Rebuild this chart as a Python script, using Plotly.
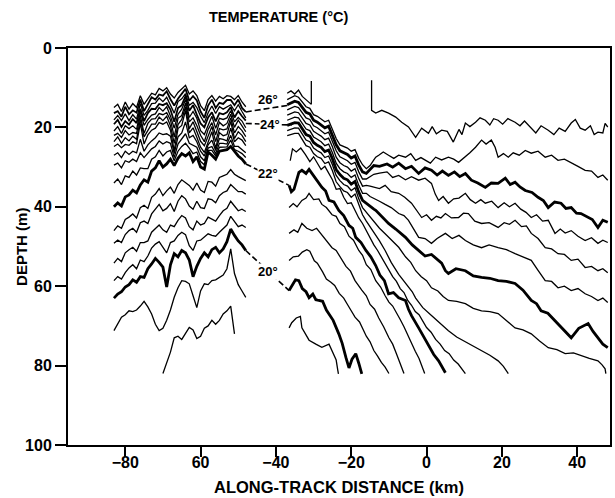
import plotly.graph_objects as go

FONT = "Liberation Sans, Arial, Helvetica, sans-serif"
INK = "black"
THIN = 1.3
THICK = 2.8

# ---------------- western section (km along track) ----------------
WEST_X = list(range(-83, -47))

# shallow, tightly packed isotherms (depth, m)
C1 = [15.0, 14.2, 16.0, 13.6, 15.4, 14.0, 15.0, 12.0, 14.2, 12.8, 11.4, 11.8, 10.2, 10.8, 10.0, 11.6, 12.6, 11.2,
      10.2, 9.4, 11.6, 10.8, 12.0, 14.5, 15.8, 13.0, 12.0, 13.4, 12.2, 12.8, 12.0, 12.2, 13.0, 12.0, 13.6, 14.8]
C2 = [16.4, 15.9, 17.3, 14.8, 16.7, 15.7, 16.3, 13.0, 15.9, 14.1, 12.4, 13.0, 11.7, 12.0, 10.9, 12.9, 14.5, 12.8,
      11.5, 10.3, 13.3, 12.1, 13.2, 16.0, 17.6, 14.5, 13.0, 15.1, 13.8, 14.1, 13.1, 13.1, 14.4, 13.0, 15.1, 16.1]
C3 = [18.1, 17.0, 18.3, 16.6, 18.3, 16.8, 17.9, 14.0, 17.0, 15.7, 14.0, 13.9, 12.6, 13.5, 12.4, 14.5, 16.4, 13.5,
      12.8, 11.5, 14.4, 13.7, 15.0, 17.2, 18.8, 16.3, 14.6, 16.5, 14.8, 15.4, 14.8, 14.3, 15.8, 14.3, 16.0, 17.6]
C4 = [19.2, 18.1, 19.9, 18.4, 19.3, 17.9, 18.9, 15.3, 18.4, 16.4, 15.3, 15.4, 14.1, 14.4, 13.9, 15.5, 18.6, 15.1,
      14.4, 12.1, 15.8, 14.4, 16.8, 19.0, 20.0, 17.5, 16.2, 18.5, 16.4, 16.7, 16.2, 14.9, 17.5, 15.9, 17.2, 18.3]
C5 = [20.9, 19.8, 21.5, 19.6, 20.3, 19.6, 20.5, 16.0, 19.5, 18.0, 16.9, 16.6, 15.0, 15.9, 14.8, 17.1, 20.2, 16.7,
      15.4, 13.0, 17.5, 16.0, 17.7, 20.8, 21.8, 19.3, 17.2, 20.2, 17.7, 18.0, 17.6, 15.8, 18.6, 17.5, 18.4, 20.1]
C6 = [22.0, 21.5, 22.5, 20.8, 21.9, 21.3, 21.5, 17.0, 21.5, 19.0, 17.9, 17.8, 16.5, 16.8, 16.3, 18.1, 22.4, 17.7,
      17.0, 13.9, 18.6, 17.6, 19.5, 22.0, 23.6, 20.5, 18.8, 21.9, 18.7, 19.6, 19.0, 16.7, 20.0, 18.2, 19.6, 21.1]
C7 = [23.6, 22.4, 24.0, 22.6, 23.4, 22.2, 23.0, 18.0, 22.4, 20.9, 19.2, 19.2, 17.4, 18.3, 17.2, 19.6, 24.0, 19.3,
      18.0, 14.8, 20.3, 18.6, 21.3, 23.5, 24.6, 22.0, 19.8, 23.6, 20.3, 20.6, 20.4, 17.6, 21.4, 19.8, 20.8, 22.3]
C8 = [24.8, 24.2, 25.1, 24.3, 24.5, 23.6, 24.1, 19.0, 24.2, 21.9, 20.7, 20.2, 18.8, 19.2, 18.6, 20.7, 25.9, 20.3,
      19.5, 15.7, 21.4, 20.1, 22.5, 25.0, 26.3, 23.7, 21.1, 25.3, 21.3, 22.1, 21.8, 18.5, 22.8, 21.1, 22.0, 23.6]
M1 = [27.0, 26.4, 27.6, 26.0, 26.8, 26.0, 26.4, 23.0, 26.0, 24.4, 23.4, 22.6, 21.4, 21.8, 21.6, 22.2, 26.6, 22.4,
      21.4, 18.6, 22.6, 22.0, 23.6, 26.0, 27.2, 24.4, 23.2, 25.8, 22.8, 23.0, 23.4, 20.2, 23.6, 22.6, 23.2, 24.6]
M2 = [29.5, 29.0, 30.2, 28.4, 28.8, 28.0, 28.6, 26.4, 27.6, 26.6, 25.4, 24.8, 23.4, 24.2, 23.6, 24.0, 27.6, 24.2,
      23.0, 21.6, 24.0, 24.6, 25.0, 27.4, 28.4, 25.2, 24.8, 26.6, 24.0, 24.0, 24.2, 22.0, 24.8, 24.8, 25.6, 26.4]
M3 = [34.0, 33.0, 34.4, 32.2, 32.6, 31.0, 32.0, 30.2, 30.4, 30.4, 28.0, 27.4, 25.8, 27.2, 26.2, 25.8, 28.4, 26.0,
      24.8, 24.0, 25.2, 26.6, 26.2, 28.6, 29.4, 25.8, 25.8, 27.2, 25.0, 25.0, 24.9, 23.2, 25.6, 26.0, 26.6, 27.6]
# 22 degC
T22_WEST = [40.0, 39.0, 39.8, 37.5, 37.0, 35.8, 36.5, 34.5, 33.2, 33.8, 31.0, 30.2, 28.4, 30.0, 29.2, 28.0, 29.6,
            27.8, 26.6, 27.2, 26.4, 28.6, 27.4, 30.0, 30.5, 26.2, 27.0, 28.0, 26.0, 25.8, 25.6, 24.8, 26.0, 27.2,
            28.0, 29.2]
M4 = [46.0, 44.8, 45.4, 43.2, 42.6, 41.8, 42.8, 40.2, 39.6, 40.4, 37.6, 36.8, 35.4, 37.2, 36.0, 35.0, 36.6, 34.4,
      33.2, 33.8, 34.6, 35.8, 34.0, 35.8, 36.4, 33.6, 33.8, 34.8, 32.6, 32.2, 31.8, 30.6, 31.8, 32.4, 32.8, 33.4]
M5 = [49.2, 48.4, 49.0, 47.0, 46.0, 45.4, 46.4, 44.0, 43.6, 44.2, 41.8, 40.6, 39.4, 41.0, 40.4, 39.2, 41.2, 38.6,
      37.2, 38.0, 39.8, 40.6, 38.6, 40.2, 40.4, 38.0, 38.2, 39.0, 37.2, 36.4, 36.0, 34.4, 35.4, 36.2, 36.2, 36.8]
M6 = [54.2, 53.0, 53.8, 51.6, 50.8, 50.2, 51.2, 49.0, 49.0, 48.6, 46.4, 45.4, 44.6, 45.8, 46.4, 44.6, 45.0, 43.4,
      42.2, 42.8, 45.0, 45.8, 43.6, 44.6, 44.2, 42.6, 43.0, 43.6, 42.2, 41.0, 40.4, 38.6, 39.8, 41.0, 40.6, 41.2]
M7 = [58.6, 57.6, 58.2, 56.6, 55.4, 54.6, 55.6, 53.4, 53.8, 52.4, 50.4, 49.4, 48.8, 50.2, 51.6, 49.0, 48.6, 47.2,
      46.4, 47.0, 49.8, 51.0, 48.6, 48.4, 47.6, 46.8, 47.2, 47.4, 46.4, 45.4, 44.6, 42.4, 43.8, 45.0, 44.6, 45.2]
# 20 degC
T20_WEST = [63.0, 62.0, 61.4, 60.2, 59.6, 58.4, 59.0, 57.6, 57.8, 55.6, 54.4, 53.0, 54.0, 55.2, 60.2, 54.6, 51.8,
            52.6, 51.0, 51.6, 53.4, 57.6, 55.0, 53.0, 51.6, 52.6, 50.8, 50.2, 51.6, 50.6, 48.8, 45.6, 47.2, 48.6,
            49.6, 51.0]
M8 = [71.2, 69.4, 67.8, 67.2, 66.2, 66.4, 66.0, 65.0, 63.8, 65.2, 67.0, 69.6, 71.2, 70.6, 68.6, 66.0, 62.8, 60.4,
      58.6, 58.8, 59.4, 62.4, 65.4, 61.2, 59.4, 59.6, 58.6, 58.4, 57.8, 57.2, 55.6, 50.6, 56.8, 59.6, 61.2, 62.8]
DEEP_WEST_X = list(range(-70, -50))
DEEP_WEST = [82.0, 79.4, 76.6, 73.0, 72.6, 73.4, 72.0, 70.4, 71.0, 73.2, 72.6, 70.6, 70.0, 68.6, 69.6, 68.6, 67.0,
             66.2, 65.0, 72.0]

# ---------------- eastern section ----------------
# isotherm reaching the surface near -15 km
OUTCROP_X = [-14.6, -14.6, -13.5, -11.9, -10.1, -8.2, -6.6, -4.8, -2.9, -1.3, 0.5, 1.5, 2.6, 4.0, 5.5, 7.1, 8.6,
             9.4, 10.3, 11.5, 13.0, 14.2, 15.6, 16.8, 17.8, 19.0, 20.2, 21.6, 23.5, 24.8, 26.0, 27.8, 29.0, 30.4,
             32.3, 33.8, 35.2, 36.8, 38.4, 39.5, 40.8, 42.1, 43.5, 44.5, 45.5, 46.8, 47.4, 48.1]
OUTCROP_D = [8.1, 15.7, 16.4, 15.7, 16.4, 17.4, 18.7, 19.9, 22.5, 20.2, 21.5, 19.8, 21.6, 20.7, 21.0, 23.7, 20.5,
             21.8, 18.9, 19.8, 18.7, 17.6, 18.2, 19.4, 17.8, 18.2, 19.2, 17.8, 18.7, 19.6, 18.4, 20.2, 21.4, 19.6,
             20.7, 21.8, 20.2, 21.0, 18.9, 18.0, 20.2, 20.7, 19.6, 21.8, 21.2, 21.4, 19.0, 19.9]
# isotherm reaching the surface near -31 km
RC1_X = [-37, -36, -35, -34, -33, -32, -31, -30.6, -30.6]
RC1_D = [11.4, 10.8, 11.6, 10.6, 12.2, 13.0, 13.8, 14.2, 8.3]

# frontal packet, -37 to -14 km
FRONT_X = list(range(-37, -13))
RC2 = [13.0, 12.6, 12.0, 12.4, 13.6, 14.8, 15.2, 16.8, 17.2, 18.0, 18.6, 18.2, 20.4, 22.8, 24.4, 24.8, 25.2, 26.0,
       25.6, 27.8, 29.4, 30.4, 29.6, 28.2]
RC3 = [14.3, 13.9, 13.4, 13.7, 15.0, 16.2, 16.6, 18.2, 18.7, 19.4, 20.1, 19.7, 21.9, 24.4, 25.9, 26.4, 26.8, 27.7,
       27.2, 29.5, 31.2, 31.6, 30.6, 29.6]
RC4 = [15.6, 15.2, 14.7, 15.0, 16.3, 17.6, 18.0, 19.6, 20.1, 20.8, 21.6, 21.2, 23.4, 25.9, 27.4, 28.0, 28.4, 29.3,
       28.8, 31.2, 33.0, 33.0, 32.4, 31.8]
RC5 = [16.9, 16.5, 16.1, 16.3, 17.7, 19.0, 19.4, 21.0, 21.6, 22.2, 23.1, 22.7, 24.9, 27.5, 28.9, 29.6, 30.0, 31.0,
       30.4, 32.9, 34.8, 34.6, 34.8, 35.0]
RC6 = [18.2, 17.8, 17.4, 17.6, 19.0, 20.4, 20.8, 22.4, 23.0, 23.6, 24.6, 24.2, 26.4, 29.0, 30.4, 31.2, 31.6, 32.6,
       32.0, 34.6, 36.6, 36.6, 37.4, 37.8]
RC7 = [19.5, 19.1, 18.8, 18.9, 20.4, 21.8, 22.2, 23.8, 24.5, 25.0, 26.1, 25.7, 27.9, 30.6, 31.9, 32.8, 33.2, 34.3,
       33.6, 36.3, 38.4, 39.2, 40.0, 40.6]
RC8 = [20.8, 20.4, 20.1, 20.2, 21.7, 23.2, 23.6, 25.2, 25.9, 26.4, 27.6, 27.2, 29.4, 32.1, 33.4, 34.4, 34.8, 35.9,
       35.2, 38.0, 40.2, 41.4, 42.6, 43.8]
RC9 = [22.1, 21.7, 21.5, 21.5, 23.1, 24.6, 25.0, 26.6, 27.4, 27.8, 29.1, 28.7, 30.9, 33.7, 34.9, 36.0, 36.4, 37.6,
       36.8, 39.7, 42.0, 43.6, 45.0, 46.6]

# continuation east of the front (km, m)
RC2_TAIL = [(-13.5, 27.5), (-12.7, 27.0), (-11.5, 26.2), (-10.1, 27.0), (-8.7, 27.8), (-7.4, 27.0), (-5.6, 27.5),
            (-4.2, 26.6), (-2.9, 28.3), (-1.5, 27.6), (-0.3, 28.3), (1.0, 29.0), (2.4, 27.5), (4.0, 28.2),
            (5.8, 27.5), (7.2, 28.0), (8.5, 28.8), (10.3, 27.5), (11.5, 26.4), (13.0, 25.0), (14.6, 23.2),
            (15.8, 24.2), (17.2, 23.2), (18.2, 25.0), (19.0, 27.5), (20.4, 26.6), (21.7, 27.5), (23.0, 26.4),
            (24.6, 27.0), (26.2, 25.8), (27.8, 26.5), (29.6, 26.0), (31.5, 27.5), (33.2, 27.0), (34.9, 28.3),
            (36.6, 28.0), (38.4, 29.0), (40.2, 29.8), (42.1, 30.8), (43.8, 31.0), (45.5, 32.6), (46.8, 32.0),
            (48.1, 33.3)]
RC3_TAIL = [(-12.5, 29.8), (-10.5, 29.2), (-9.0, 30.0), (-7.4, 29.0), (-5.6, 30.4), (-4.0, 29.8), (-2.1, 31.6),
            (-0.4, 30.2), (1.3, 30.8), (2.8, 32.0), (4.2, 31.0), (5.8, 32.1), (7.4, 31.2), (8.8, 32.4),
            (10.3, 31.6), (11.9, 33.3), (13.6, 34.0), (15.6, 35.1), (17.2, 34.0), (19.0, 34.1), (20.9, 32.8),
            (22.2, 34.4), (23.5, 33.8), (24.8, 35.0), (26.2, 35.9), (28.0, 36.4), (29.6, 37.6), (31.0, 38.4),
            (32.3, 40.2), (34.0, 38.8), (35.7, 39.1), (37.0, 40.4), (38.4, 40.2), (39.8, 41.6), (41.0, 41.7),
            (42.6, 42.6), (44.0, 43.2), (45.5, 45.2), (46.8, 43.4), (48.1, 43.9)]
RC4_TAIL = [(-12.5, 31.5), (-10.5, 31.2), (-9.0, 32.6), (-7.4, 32.1), (-5.6, 33.2), (-4.0, 32.4), (-2.1, 33.3),
            (-0.4, 32.8), (1.3, 34.1), (2.3, 36.8), (3.2, 38.4), (4.4, 37.4), (5.8, 39.1), (7.2, 38.0),
            (8.6, 37.8), (10.3, 36.6), (11.6, 38.2), (13.0, 39.1), (14.4, 38.2), (15.6, 39.1), (17.3, 38.6),
            (19.0, 40.2), (20.6, 39.0), (22.0, 40.0), (23.5, 39.1), (25.0, 40.6), (26.4, 41.4), (27.8, 42.7),
            (29.2, 42.0), (30.8, 43.6), (32.3, 43.4), (34.1, 46.7), (35.5, 45.6), (36.8, 46.6), (38.4, 46.0),
            (40.2, 47.4), (42.1, 48.5), (43.8, 47.8), (45.5, 49.2), (46.8, 48.4), (48.1, 49.0)]
RC5_TAIL = [(-12.5, 35.4), (-11.0, 34.6), (-9.4, 36.2), (-7.4, 36.6), (-5.8, 37.6), (-4.0, 39.1), (-2.6, 41.0),
            (-1.3, 42.7), (0.0, 42.0), (1.3, 43.4), (2.6, 42.4), (3.8, 42.8), (5.0, 41.7), (6.6, 42.8),
            (8.5, 42.7), (9.8, 41.6), (11.1, 41.7), (12.8, 43.6), (14.6, 44.2), (16.6, 44.0), (19.0, 45.2),
            (20.6, 44.0), (22.0, 44.4), (23.5, 43.4), (25.2, 45.0), (26.5, 44.8), (27.8, 46.7), (29.6, 48.0),
            (31.5, 50.3), (33.2, 50.6), (34.9, 51.8), (36.6, 52.0), (38.4, 53.5), (40.2, 53.2), (42.1, 55.3),
            (43.8, 55.0), (45.5, 56.1), (46.8, 55.6), (48.1, 56.6)]
RC6_TAIL = [(-12.5, 38.6), (-11.0, 39.4), (-9.4, 40.2), (-7.4, 41.7), (-6.0, 42.2), (-4.8, 43.4), (-3.4, 45.6),
            (-2.1, 47.7), (-0.4, 48.0), (1.3, 49.2), (2.8, 48.0), (5.0, 46.7), (6.8, 48.0), (8.6, 47.2),
            (10.3, 48.5), (12.4, 49.6), (14.6, 50.3), (16.6, 49.6), (19.0, 50.3), (21.2, 50.8), (23.5, 51.8),
            (25.6, 52.6), (27.8, 53.5), (29.6, 56.0), (31.5, 58.6), (33.2, 58.8), (34.9, 60.4), (36.6, 60.0),
            (38.4, 61.1), (40.2, 60.6), (42.1, 61.9), (43.8, 62.6), (45.5, 63.6), (46.8, 63.0), (48.1, 64.1)]
RC7_TAIL = [(-13.5, 40.9), (-12.0, 42.4), (-10.1, 44.2), (-8.2, 45.6), (-5.6, 47.7), (-3.8, 49.6), (-2.1, 51.0),
            (-0.4, 52.4), (1.3, 52.0), (3.2, 53.5), (4.0, 54.2), (5.0, 56.1), (5.8, 56.8), (7.8, 55.6),
            (10.3, 56.1), (12.4, 57.4), (14.6, 57.8), (16.8, 58.0), (19.0, 58.6), (21.2, 58.8), (23.5, 59.3),
            (25.6, 61.0), (27.8, 63.6), (29.2, 64.4), (30.4, 66.2), (32.2, 66.8), (34.1, 68.7), (36.2, 70.6),
            (38.4, 73.0), (40.4, 70.6), (42.9, 69.4), (44.2, 71.4), (45.5, 73.0), (46.8, 74.6), (48.1, 75.5)]
RC8_TAIL = [(-12.5, 45.4), (-11.0, 46.8), (-9.4, 48.4), (-7.4, 50.2), (-5.6, 52.6), (-4.2, 54.0), (-2.9, 56.1),
            (-1.4, 57.6), (0.0, 58.6), (1.3, 60.4), (3.0, 61.2), (4.4, 62.6), (5.8, 63.6), (8.0, 63.8),
            (10.3, 64.4), (12.4, 65.6), (14.6, 66.2), (16.8, 66.4), (19.0, 66.9), (21.2, 68.6), (23.5, 70.5),
            (25.6, 71.0), (27.8, 72.0), (30.0, 73.8), (32.3, 75.5), (34.6, 76.0), (36.8, 77.0), (39.0, 76.8),
            (41.0, 77.5), (43.2, 78.2), (45.5, 78.8), (46.6, 79.8), (47.4, 80.8), (47.6, 82.0)]
RC9_TAIL = [(-12.5, 48.6), (-11.0, 51.0), (-9.4, 54.0), (-7.4, 57.0), (-6.2, 58.4), (-5.0, 60.0), (-3.8, 61.4),
            (-2.9, 63.0), (-1.0, 65.4), (1.3, 67.4), (3.4, 69.2), (5.8, 71.2), (8.0, 72.8), (10.3, 74.0),
            (12.4, 75.0), (14.6, 76.3), (16.8, 77.4), (19.0, 78.8), (20.4, 80.2), (21.7, 82.0)]

# deeper eastern isotherms, (km, m)
RM_EAST = [(-36.2, 28.4), (-35.6, 25.4), (-34.6, 26.2), (-33.4, 25.2), (-32.2, 26.8), (-31.0, 28.6), (-30.0, 27.4),
           (-29.0, 29.0), (-28.0, 30.6), (-27.0, 29.8), (-26.0, 31.6), (-25.0, 33.2), (-24.0, 35.6), (-23.0, 35.4),
           (-22.0, 37.6), (-21.0, 39.2), (-20.0, 39.0), (-19.0, 41.0), (-18.0, 42.8), (-17.0, 44.2), (-16.0, 46.0),
           (-15.0, 48.0), (-14.0, 49.6), (-13.0, 51.0), (-12.0, 52.6), (-11.0, 54.2), (-10.0, 55.8), (-9.0, 57.6),
           (-8.0, 58.8), (-7.0, 60.6), (-6.0, 61.6), (-5.0, 63.6), (-4.0, 64.8), (-3.0, 66.4), (-2.0, 67.2),
           (-1.0, 68.8), (0.0, 70.4), (1.2, 71.6), (2.4, 73.4), (3.6, 74.6), (4.8, 76.2), (6.0, 77.0), (7.2, 78.6),
           (8.4, 79.6), (9.4, 81.0), (10.3, 82.0)]
T22_EAST = [(-36.5, 34.6), (-35.9, 36.2), (-35.2, 35.6), (-34.5, 33.0), (-33.9, 31.3), (-33.1, 30.8), (-32.0, 31.6),
            (-31.2, 30.6), (-30.4, 31.6), (-29.1, 33.3), (-27.8, 35.1), (-26.8, 36.0), (-25.9, 38.4), (-24.6, 38.8),
            (-23.3, 40.9), (-22.0, 42.2), (-20.6, 44.7), (-19.6, 45.4), (-18.8, 47.7), (-17.4, 49.0), (-16.1, 51.0),
            (-14.8, 52.6), (-13.5, 54.8), (-12.4, 57.2), (-11.2, 58.6), (-10.1, 61.9), (-8.8, 61.6), (-7.4, 62.9),
            (-5.6, 63.6), (-4.8, 65.8), (-4.0, 67.4), (-2.1, 70.5), (-0.8, 72.6), (0.5, 75.0), (1.9, 77.2),
            (3.2, 78.8), (4.2, 80.6), (5.0, 81.8)]
R40_EAST = [(-36.5, 40.2), (-35.4, 39.2), (-34.4, 40.0), (-33.1, 38.4), (-32.0, 37.8), (-31.2, 36.6), (-30.0, 38.2),
            (-28.6, 38.0), (-27.8, 39.4), (-26.6, 40.2), (-25.1, 42.0), (-24.0, 42.4), (-23.0, 44.2), (-21.8, 45.0),
            (-20.6, 47.4), (-19.4, 48.4), (-18.0, 51.0), (-17.0, 52.2), (-16.0, 54.6), (-14.8, 55.8), (-13.5, 58.6),
            (-12.2, 60.2), (-11.0, 62.4), (-10.0, 64.0), (-9.0, 65.0), (-8.0, 66.6), (-7.0, 68.4), (-6.0, 70.2),
            (-5.0, 72.4), (-4.0, 74.2), (-3.0, 76.4), (-2.0, 78.2), (-1.2, 80.2), (-0.5, 82.0)]
R47_EAST = [(-36.5, 46.7), (-35.2, 45.8), (-34.2, 46.4), (-33.1, 44.2), (-31.8, 45.4), (-30.4, 46.0), (-29.2, 45.4),
            (-27.8, 47.0), (-26.4, 48.6), (-25.1, 50.3), (-24.0, 51.0), (-23.0, 52.6), (-21.4, 55.0), (-20.2, 56.2),
            (-19.0, 58.6), (-17.2, 61.0), (-16.0, 62.4), (-15.0, 64.6), (-13.8, 65.8), (-12.7, 68.0), (-11.4, 70.2),
            (-10.0, 73.0), (-9.0, 74.6), (-8.0, 77.0), (-7.0, 79.4), (-6.0, 82.0)]
R53_EAST = [(-36.5, 53.5), (-35.4, 52.6), (-34.0, 52.4), (-33.0, 51.4), (-31.8, 50.8), (-31.0, 51.2), (-29.8, 53.6),
            (-29.0, 54.2), (-27.6, 56.4), (-26.6, 58.2), (-25.4, 59.0), (-24.4, 59.8), (-23.2, 61.8), (-22.0, 63.0),
            (-21.0, 64.6), (-19.8, 66.4), (-19.0, 67.8), (-17.8, 69.0), (-17.0, 70.6), (-16.0, 72.6), (-15.0, 74.0),
            (-14.0, 76.2), (-13.0, 77.6), (-12.0, 79.2), (-11.0, 80.4), (-10.0, 82.0)]
T20_EAST = [(-36.5, 61.1), (-35.6, 59.8), (-34.8, 58.4), (-33.9, 58.6), (-33.0, 60.6), (-32.0, 61.4), (-31.2, 62.9),
            (-30.2, 62.0), (-29.4, 63.4), (-28.6, 63.6), (-27.6, 63.8), (-26.6, 66.0), (-25.9, 66.9), (-24.8, 68.6),
            (-23.3, 72.0), (-22.4, 74.4), (-21.4, 78.0), (-20.6, 80.6), (-19.8, 78.4), (-18.8, 77.0), (-18.0, 79.4),
            (-17.2, 82.1)]
R70_EAST = [(-36.5, 70.5), (-35.8, 69.2), (-34.6, 68.0), (-33.5, 67.6), (-33.1, 70.5), (-32.0, 72.2), (-31.2, 73.6),
            (-29.4, 74.6), (-27.8, 75.4), (-25.9, 74.6), (-25.1, 76.2), (-24.0, 78.6), (-23.6, 81.0), (-23.4, 82.1)]

# dashed links across the data gap, and their temperature labels
LINK_26 = [(-48.0, 16.1), (-36.5, 14.4)]
LINK_24 = [(-48.0, 19.0), (-35.8, 19.4)]
LINK_22 = [(-48.0, 29.2), (-36.5, 34.6)]
LINK_20 = [(-48.0, 51.0), (-36.5, 61.1)]
LABELS = [("26°", -42.0, 13.0, False), ("24°", -41.6, 19.2, True),
          ("22°", -42.0, 31.6, True), ("20°", -42.0, 56.4, True)]

X_TICKS = [-80, -60, -40, -20, 0, 20, 40]
X_TICK_TEXT = ["\u221280", "60", "\u221240", "\u221220", "0", "20", "40"]
Y_TICKS = [0, 20, 40, 60, 80, 100]

fig = go.Figure()


def add_line(xs, ds, width, dash=None):
    fig.add_trace(go.Scatter(x=xs, y=ds, mode="lines",
                             line=dict(color=INK, width=width, dash=dash),
                             showlegend=False, hoverinfo="skip"))


def add_pairs(pairs, width, dash=None):
    add_line([p[0] for p in pairs], [p[1] for p in pairs], width, dash)


# western section
for depths, w in [(C1, THIN), (C2, 1.8), (C3, THIN), (C4, 1.8), (C5, THIN), (C6, THIN), (C7, THIN), (C8, THIN),
                  (M1, THIN), (M2, THIN), (M3, THIN), (T22_WEST, THICK), (M4, THIN), (M5, THIN), (M6, THIN),
                  (M7, THIN), (T20_WEST, THICK), (M8, THIN)]:
    add_line(WEST_X, depths, w)
add_line(DEEP_WEST_X, DEEP_WEST, THIN)

# eastern section
add_line(OUTCROP_X, OUTCROP_D, THIN)
add_line(RC1_X, RC1_D, THIN)
for depths, tail, w in [(RC2, RC2_TAIL, THIN), (RC3, RC3_TAIL, THICK), (RC4, RC4_TAIL, THIN),
                        (RC5, RC5_TAIL, THIN), (RC6, RC6_TAIL, THIN), (RC7, RC7_TAIL, THICK),
                        (RC8, RC8_TAIL, THIN), (RC9, RC9_TAIL, THIN)]:
    add_line(FRONT_X + [p[0] for p in tail], depths + [p[1] for p in tail], w)
for pairs, w in [(RM_EAST, THIN), (T22_EAST, THICK), (R40_EAST, THIN), (R47_EAST, THIN),
                 (R53_EAST, THIN), (T20_EAST, THICK), (R70_EAST, THIN)]:
    add_pairs(pairs, w)

# links and labels
for link in (LINK_26, LINK_24, LINK_22, LINK_20):
    add_pairs(link, 1.6, dash="6px,3px")
for text, lx, ld, boxed in LABELS:
    fig.add_annotation(x=lx, y=ld, text=text, showarrow=False,
                       font=dict(family=FONT, size=13, color=INK, weight="bold"),
                       bgcolor="white" if boxed else "rgba(0,0,0,0)", borderpad=0)

axis_font = dict(family=FONT, size=16, color=INK, weight="bold")
fig.update_xaxes(range=[-95.2, 48.7], tickvals=X_TICKS, ticktext=X_TICK_TEXT, ticks="outside",
                 ticklen=10, tickwidth=2, tickcolor=INK, showline=True, linewidth=2, linecolor=INK,
                 mirror=True, showgrid=False, zeroline=False, tickfont=axis_font, ticklabelstandoff=-8)
fig.update_yaxes(range=[100, 0], tickvals=Y_TICKS, ticks="outside", ticklen=11, tickwidth=2,
                 tickcolor=INK, showline=True, linewidth=2, linecolor=INK, mirror=True,
                 showgrid=False, zeroline=False, tickfont=axis_font)

fig.add_annotation(xref="paper", yref="paper", x=0.388, y=1.078, text="TEMPERATURE (°C)",
                   showarrow=False, font=dict(family=FONT, size=14.5, color=INK, weight="bold"),
                   xanchor="center", yanchor="middle")
fig.add_annotation(xref="paper", yref="paper", x=0.5, y=-0.106, text="ALONG-TRACK DISTANCE (km)",
                   showarrow=False, font=dict(family=FONT, size=16.5, color=INK, weight="bold"),
                   xanchor="center", yanchor="middle")
fig.add_annotation(xref="paper", yref="paper", x=-0.086, y=0.5, text="DEPTH (m)", textangle=-90,
                   showarrow=False, font=dict(family=FONT, size=15, color=INK, weight="bold"),
                   xanchor="center", yanchor="middle")

fig.update_layout(width=615, height=498, margin=dict(l=68, r=3, t=48, b=53),
                  paper_bgcolor="white", plot_bgcolor="white", hovermode=False)

fig.write_html("out.html")
